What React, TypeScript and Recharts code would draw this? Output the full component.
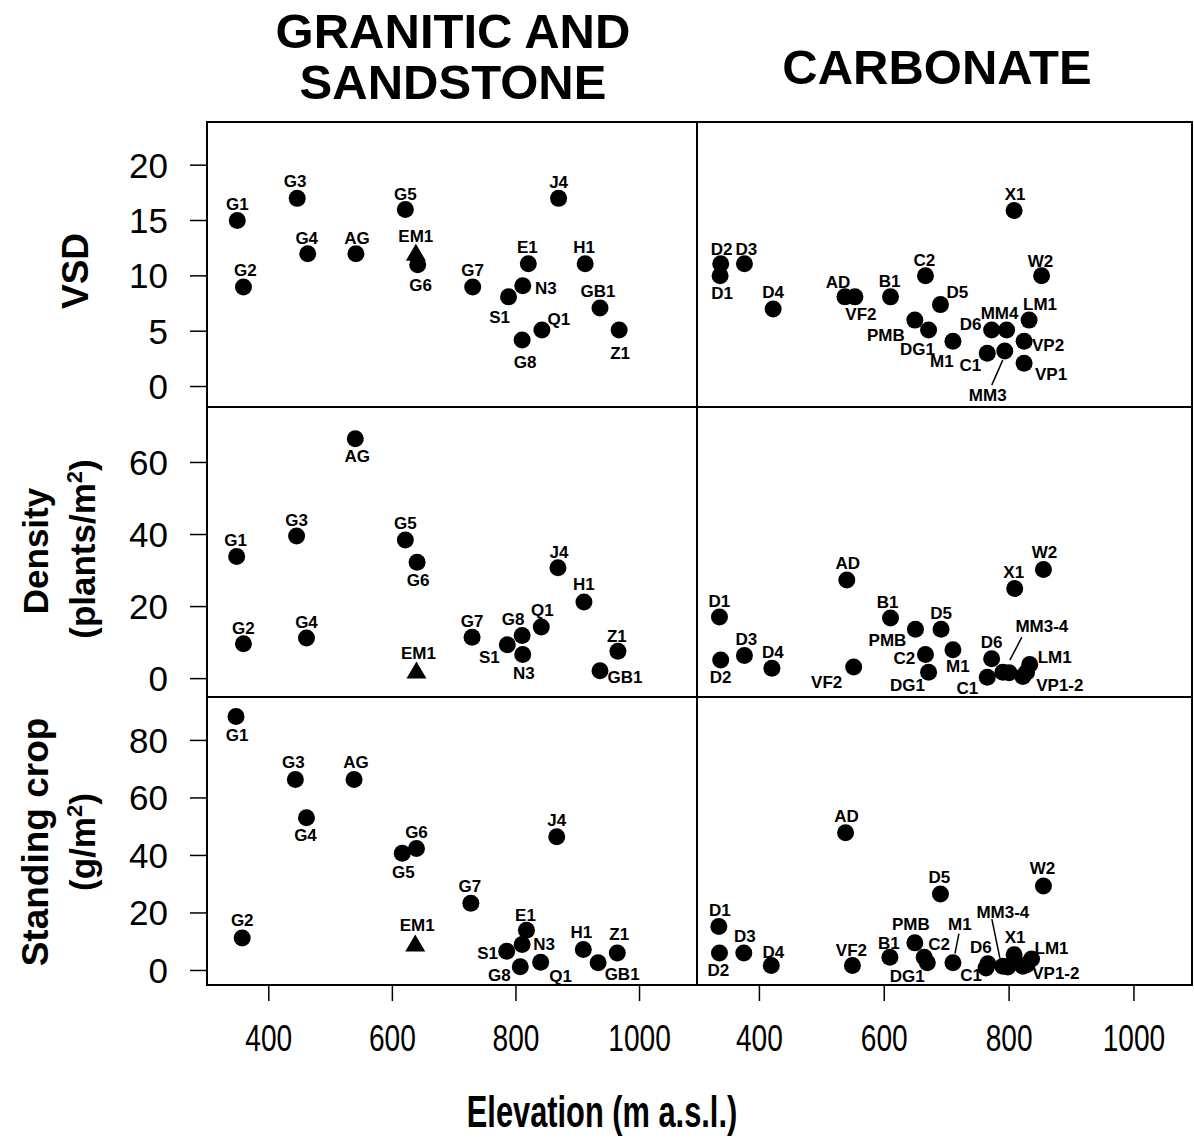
import React from "react";
import { ScatterChart, Scatter, XAxis, YAxis, ReferenceArea } from "recharts";

const FONT = '"Liberation Sans", Arial, Helvetica, sans-serif';

// elevation axis, shared by every panel
const ELEV_DOMAIN: [number, number] = [300, 1093];
const ELEV_TICKS = [400, 600, 800, 1000];

const VSD_DOMAIN: [number, number] = [-1.85, 23.9];
const VSD_TICKS = [0, 5, 10, 15, 20];
const DENSITY_DOMAIN: [number, number] = [-5.1, 75.4];
const DENSITY_TICKS = [0, 20, 40, 60];
const CROP_DOMAIN: [number, number] = [-5.05, 95.1];
const CROP_TICKS = [0, 20, 40, 60, 80];

// ---- VSD
const vsdGranSites = ["G1", "G2", "G3", "G4", "AG", "G5", "G6", "G7", "E1", "N3", "S1", "H1", "GB1", "J4", "Q1", "G8", "Z1"];
const vsdGranElev = [349, 359, 446, 463, 541, 621, 641, 730, 820, 811, 788, 912, 936, 869, 842, 810, 967];
const vsdGranValue = [15, 9, 17, 12, 12, 16, 11, 9, 11.1, 9.1, 8.1, 11.1, 7.1, 17, 5.1, 4.2, 5.1];
const vsdGranTriSites = ["EM1"];
const vsdGranTriElev = [638];
const vsdGranTriValue = [12];

const vsdCarbSites = ["D2", "D1", "D3", "D4", "AD", "VF2", "B1", "C2", "D5", "PMB", "DG1", "M1", "X1", "W2", "LM1", "D6", "MM4", "VP2", "C1", "MM3", "VP1"];
const vsdCarbElev = [338, 337, 376, 422, 537, 553, 610, 666, 690, 649, 671, 710, 808, 852, 832, 772, 796, 824, 765, 793, 824];
const vsdCarbValue = [11.1, 10, 11.1, 7, 8.1, 8.1, 8.1, 10, 7.4, 6, 5.1, 4.1, 15.9, 10, 6, 5.1, 5.1, 4.1, 3, 3.2, 2.1];

// ---- Density (plants/m2)
const denGranSites = ["AG", "G3", "G1", "G5", "G6", "J4", "H1", "Q1", "G8", "G7", "S1", "N3", "G2", "G4", "Z1", "GB1"];
const denGranElev = [540, 445, 348, 621, 640, 868, 910, 841, 810, 729, 786, 811, 359, 461, 965, 936];
const denGranValue = [66.6, 39.6, 33.9, 38.5, 32.3, 30.8, 21.3, 14.3, 12, 11.5, 9.4, 6.7, 9.7, 11.3, 7.6, 2.2];
const denGranTriSites = ["EM1"];
const denGranTriElev = [639];
const denGranTriValue = [2];

const denCarbSites = ["AD", "D1", "D2", "D3", "D4", "VF2", "B1", "PMB", "D5", "C2", "DG1", "M1", "D6", "C1", "MM3", "MM4", "X1", "W2", "LM1", "VP1", "VP2"];
const denCarbElev = [540, 336, 338, 376, 420, 551, 610, 650, 691, 666, 671, 710, 772, 765, 790, 800, 809, 855, 833, 822, 828];
const denCarbValue = [27.4, 17.1, 5.2, 6.4, 2.9, 3.2, 16.8, 13.7, 13.7, 6.7, 1.8, 8, 5.5, 0.4, 1.8, 1.6, 25, 30.3, 3.9, 0.6, 1.8];

// ---- Standing crop (g/m2)
const cropGranSites = ["G1", "G3", "AG", "G4", "G6", "G5", "J4", "G7", "G2", "E1", "N3", "S1", "G8", "Q1", "H1", "GB1", "Z1"];
const cropGranElev = [347, 443, 538, 461, 639, 616, 866, 727, 357, 817, 810, 785, 807, 840, 909, 933, 964];
const cropGranValue = [88.3, 66.4, 66.4, 53.1, 42.4, 40.8, 46.5, 23.4, 11.3, 14, 9, 6.7, 1.3, 2.9, 7.3, 2.7, 6.1];
const cropGranTriSites = ["EM1"];
const cropGranTriElev = [637];
const cropGranTriValue = [9];

const cropCarbSites = ["AD", "D5", "W2", "D1", "D2", "D3", "D4", "VF2", "B1", "PMB", "C2", "DG1", "M1", "D6", "C1", "MM3", "MM4", "X1", "LM1", "VP1", "VP2"];
const cropCarbElev = [538, 690, 855, 335, 336, 375, 419, 549, 609, 649, 664, 669, 710, 766, 763, 790, 798, 808, 836, 822, 828];
const cropCarbValue = [47.9, 26.6, 29.4, 15.3, 6.1, 6.1, 1.7, 1.7, 4.6, 9.6, 4.6, 2.7, 2.7, 2.3, 0.9, 1.5, 1.2, 5.5, 4, 1.5, 2];

type Pt = { site: string; elev: number; value: number };
const toPoints = (sites: string[], elev: number[], value: number[]): Pt[] =>
  sites.map((site, i) => ({ site, elev: elev[i], value: value[i] }));

// label placement (pixel offsets from the marker centre)
type LabelSpec = { dx: number; dy: number; text?: string; line?: [number, number, number, number] };
const at = (dx: number, dy: number, extra: Partial<LabelSpec> = {}): LabelSpec => ({ dx, dy, ...extra });

const VSD_GRAN_LABELS: Record<string, LabelSpec> = {
  G1: at(0, -16), G2: at(2, -16), G3: at(-2, -17), G4: at(-1, -15), AG: at(1, -15), G5: at(0, -15),
  EM1: at(0, -17), G6: at(3, 21), G7: at(0, -16), E1: at(-1, -16), N3: at(23, 3), S1: at(-9, 21),
  H1: at(-1, -16), GB1: at(-2, -16), J4: at(0, -16), Q1: at(17, -11), G8: at(3, 22), Z1: at(1, 23),
};
const VSD_CARB_LABELS: Record<string, LabelSpec> = {
  D2: at(1, -14), D1: at(2, 18), D3: at(2, -14), D4: at(0, -17), AD: at(-7, -14), VF2: at(6, 18),
  B1: at(-1, -15), C2: at(-1, -15), D5: at(17, -12), PMB: at(-29, 15), DG1: at(-11, 19), M1: at(-11, 20),
  X1: at(1, -16), W2: at(-1, -14), LM1: at(11, -16), D6: at(-21, -6), MM4: at(-7, -17), VP2: at(24, 4),
  C1: at(-17, 12), MM3: at(-17, 44, { line: [-2, 9, -13, 34] }), VP1: at(27, 11),
};
const DEN_GRAN_LABELS: Record<string, LabelSpec> = {
  AG: at(2, 18), G3: at(0, -15), G1: at(-1, -16), G5: at(0, -16), G6: at(1, 18), J4: at(1, -15),
  H1: at(0, -17), Q1: at(1, -17), G8: at(-9, -16), G7: at(0, -16), S1: at(-18, 13), N3: at(1, 19),
  G2: at(0, -15), G4: at(0, -15), EM1: at(2, -18), Z1: at(-1, -15), GB1: at(25, 7),
};
const DEN_CARB_LABELS: Record<string, LabelSpec> = {
  AD: at(1, -16), D1: at(0, -16), D2: at(0, 18), D3: at(2, -16), D4: at(1, -16), VF2: at(-27, 15),
  B1: at(-3, -16), PMB: at(-28, 11), D5: at(0, -16), C2: at(-21, 4), DG1: at(-21, 13), M1: at(5, 17),
  D6: at(0, -16), C1: at(-20, 11), MM3: at(39, -46, { text: "MM3-4", line: [19, -35, 7, -12] }),
  X1: at(-1, -16), W2: at(1, -17), LM1: at(25, -7), VP1: at(37, 9, { text: "VP1-2" }),
};
const CROP_GRAN_LABELS: Record<string, LabelSpec> = {
  G1: at(1, 19), G3: at(-2, -17), AG: at(2, -17), G4: at(-1, 18), G6: at(0, -16), G5: at(1, 19),
  J4: at(0, -16), G7: at(-1, -17), G2: at(0, -17), EM1: at(2, -19), E1: at(-1, -15), N3: at(22, 0),
  S1: at(-19, 2), G8: at(-21, 9), Q1: at(20, 14), H1: at(-2, -17), GB1: at(24, 12), Z1: at(2, -18),
};
const CROP_CARB_LABELS: Record<string, LabelSpec> = {
  AD: at(1, -16), D5: at(-1, -16), W2: at(-1, -17), D1: at(1, -16), D2: at(-1, 18), D3: at(1, -16),
  D4: at(2, -13), VF2: at(-1, -15), B1: at(-1, -14), PMB: at(-4, -18), C2: at(15, -13), DG1: at(-20, 14),
  M1: at(7, -38, { line: [2, -9, 6, -29] }), D6: at(-7, -16), C1: at(-15, 8),
  MM3: at(0, -54, { text: "MM3-4", line: [-11, -47, -3, -8] }),
  X1: at(1, -17), LM1: at(20, -10), VP1: at(33, 7, { text: "VP1-2" }),
};

// panel frames (page pixels)
const COL_X = [207, 697];
const COL_W = [490, 495];
const ROW_Y = [122, 407, 697];
const ROW_H = [285, 290, 288];

function makeShape(labels: Record<string, LabelSpec>, marker: "circle" | "triangle") {
  return (props: any) => {
    const { cx, cy, payload } = props;
    const lab = labels[payload.site];
    return (
      <g>
        {marker === "circle" ? (
          <circle cx={cx} cy={cy} r={8.5} fill="#000" />
        ) : (
          <polygon points={`${cx},${cy - 10} ${cx + 10},${cy + 7} ${cx - 10},${cy + 7}`} fill="#000" />
        )}
        {lab && lab.line && (
          <line
            x1={cx + lab.line[0]}
            y1={cy + lab.line[1]}
            x2={cx + lab.line[2]}
            y2={cy + lab.line[3]}
            stroke="#000"
            strokeWidth={1.5}
          />
        )}
        {lab && (
          <text
            x={cx + lab.dx}
            y={cy + lab.dy}
            textAnchor="middle"
            dominantBaseline="central"
            fontFamily={FONT}
            fontWeight="bold"
            fontSize={17}
            fill="#000"
          >
            {lab.text ?? payload.site}
          </text>
        )}
      </g>
    );
  };
}

// narrow tick labels for the elevation axis
const ElevTick = (props: any) => {
  const { x, y, payload } = props;
  return (
    <text
      transform={`translate(${x},${y}) scale(0.76,1)`}
      textAnchor="middle"
      dy="0.71em"
      fontSize={37}
      fontFamily={FONT}
      fill="#000"
    >
      {payload.value}
    </text>
  );
};

function Panel({
  row,
  col,
  points,
  triangles,
  labels,
  domain,
  ticks,
}: {
  row: number;
  col: number;
  points: Pt[];
  triangles?: Pt[];
  labels: Record<string, LabelSpec>;
  domain: [number, number];
  ticks: number[];
}) {
  const isLeft = col === 0;
  const isBottom = row === 2;
  const leftPad = isLeft ? COL_X[0] : 10;
  const rightPad = 12;
  const topPad = 10;
  const bottomAxisH = isBottom ? 80 : 0;
  const width = leftPad + COL_W[col] + rightPad;
  const height = topPad + ROW_H[row] + bottomAxisH + 10;
  const tickLine = { stroke: "#000", strokeWidth: 1.5 };

  return (
    <div style={{ position: "absolute", left: COL_X[col] - leftPad, top: ROW_Y[row] - topPad }}>
      <ScatterChart
        width={width}
        height={height}
        margin={{ top: topPad, right: rightPad, bottom: 10, left: isLeft ? 0 : leftPad }}
      >
        <XAxis
          xAxisId="top"
          orientation="top"
          type="number"
          dataKey="elev"
          domain={ELEV_DOMAIN}
          ticks={ELEV_TICKS}
          allowDataOverflow
          mirror
          height={0}
          tick={false}
          tickSize={16}
          tickLine={tickLine}
          axisLine={false}
        />
        {isBottom && (
          <XAxis
            xAxisId="bottom"
            orientation="bottom"
            type="number"
            dataKey="elev"
            domain={ELEV_DOMAIN}
            ticks={ELEV_TICKS}
            allowDataOverflow
            height={bottomAxisH}
            tickSize={16}
            tickMargin={24}
            tick={<ElevTick />}
            tickLine={tickLine}
            axisLine={false}
          />
        )}
        {isLeft ? (
          <YAxis
            yAxisId="v"
            orientation="left"
            type="number"
            dataKey="value"
            domain={domain}
            ticks={ticks}
            allowDataOverflow
            width={leftPad}
            tickSize={17}
            tickMargin={22}
            tick={{ fill: "#000", fontSize: 35, fontFamily: FONT }}
            tickLine={tickLine}
            axisLine={false}
          />
        ) : (
          <YAxis
            yAxisId="v"
            orientation="right"
            type="number"
            dataKey="value"
            domain={domain}
            ticks={ticks}
            allowDataOverflow
            mirror
            width={0}
            tick={false}
            tickSize={17}
            tickLine={tickLine}
            axisLine={false}
          />
        )}
        <ReferenceArea
          xAxisId="top"
          yAxisId="v"
          x1={ELEV_DOMAIN[0]}
          x2={ELEV_DOMAIN[1]}
          y1={domain[0]}
          y2={domain[1]}
          fill="none"
          stroke="#000"
          strokeWidth={2}
          ifOverflow="visible"
        />
        <Scatter
          xAxisId="top"
          yAxisId="v"
          data={points}
          shape={makeShape(labels, "circle")}
          isAnimationActive={false}
        />
        {triangles && (
          <Scatter
            xAxisId="top"
            yAxisId="v"
            data={triangles}
            shape={makeShape(labels, "triangle")}
            isAnimationActive={false}
          />
        )}
      </ScatterChart>
    </div>
  );
}

const textBase: React.CSSProperties = {
  position: "absolute",
  fontFamily: FONT,
  fontWeight: "bold",
  color: "#000",
  whiteSpace: "nowrap",
};

function RotLabel({ x, y, size, children }: { x: number; y: number; size: number; children: React.ReactNode }) {
  return (
    <div
      style={{
        ...textBase,
        left: x,
        top: y,
        fontSize: size,
        lineHeight: 1,
        transform: "translate(-50%, -50%) rotate(-90deg)",
      }}
    >
      {children}
    </div>
  );
}

export default function App() {
  return (
    <div style={{ position: "absolute", left: 0, top: 0, width: 1194, height: 1147, background: "#fff" }}>
      <div style={{ ...textBase, left: 203, top: 6, width: 500, textAlign: "center", fontSize: 49, lineHeight: "51px" }}>
        GRANITIC AND
        <br />
        SANDSTONE
      </div>
      <div style={{ ...textBase, left: 687, top: 42, width: 500, textAlign: "center", fontSize: 49, lineHeight: "51px" }}>
        CARBONATE
      </div>

      <RotLabel x={75} y={271} size={37}>VSD</RotLabel>
      <RotLabel x={35} y={551} size={35}>Density</RotLabel>
      <RotLabel x={82} y={549} size={35}>
        (plants/m<sup style={{ fontSize: 22 }}>2</sup>)
      </RotLabel>
      <RotLabel x={35} y={842} size={37}>Standing crop</RotLabel>
      <RotLabel x={82} y={842} size={35}>
        (g/m<sup style={{ fontSize: 22 }}>2</sup>)
      </RotLabel>

      <Panel row={0} col={0} points={toPoints(vsdGranSites, vsdGranElev, vsdGranValue)}
        triangles={toPoints(vsdGranTriSites, vsdGranTriElev, vsdGranTriValue)}
        labels={VSD_GRAN_LABELS} domain={VSD_DOMAIN} ticks={VSD_TICKS} />
      <Panel row={0} col={1} points={toPoints(vsdCarbSites, vsdCarbElev, vsdCarbValue)}
        labels={VSD_CARB_LABELS} domain={VSD_DOMAIN} ticks={VSD_TICKS} />
      <Panel row={1} col={0} points={toPoints(denGranSites, denGranElev, denGranValue)}
        triangles={toPoints(denGranTriSites, denGranTriElev, denGranTriValue)}
        labels={DEN_GRAN_LABELS} domain={DENSITY_DOMAIN} ticks={DENSITY_TICKS} />
      <Panel row={1} col={1} points={toPoints(denCarbSites, denCarbElev, denCarbValue)}
        labels={DEN_CARB_LABELS} domain={DENSITY_DOMAIN} ticks={DENSITY_TICKS} />
      <Panel row={2} col={0} points={toPoints(cropGranSites, cropGranElev, cropGranValue)}
        triangles={toPoints(cropGranTriSites, cropGranTriElev, cropGranTriValue)}
        labels={CROP_GRAN_LABELS} domain={CROP_DOMAIN} ticks={CROP_TICKS} />
      <Panel row={2} col={1} points={toPoints(cropCarbSites, cropCarbElev, cropCarbValue)}
        labels={CROP_CARB_LABELS} domain={CROP_DOMAIN} ticks={CROP_TICKS} />

      <div
        style={{
          ...textBase,
          left: 602,
          top: 1112,
          fontSize: 44,
          lineHeight: 1,
          transform: "translate(-50%, -50%) scale(0.7, 1)",
        }}
      >
        Elevation (m a.s.l.)
      </div>
    </div>
  );
}
